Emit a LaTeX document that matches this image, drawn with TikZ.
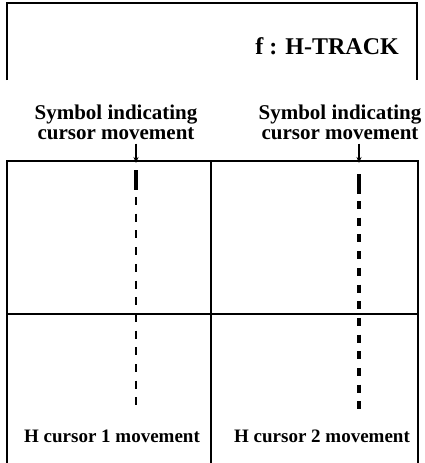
\documentclass[tikz,border=0pt]{standalone}
\usepackage{fontspec}
\setmainfont{Liberation Serif}
\usetikzlibrary{arrows.meta}
\begin{document}
\begin{tikzpicture}[x=1pt,y=-1pt,
  frame/.style={line width=1.4pt},
  symlbl/.style={font=\bfseries\fontsize{21}{20}\selectfont, inner sep=0pt, align=center},
  lbl/.style={font=\bfseries\fontsize{19}{20}\selectfont, inner sep=0pt, align=center},
  ptr/.style={line width=1.2pt,-{Stealth[length=6pt,width=5pt]}},
  thinmark/.style={line width=1.8pt, dash pattern=on 8pt off 8.7pt},
  thickmark/.style={line width=3.6pt, dash pattern=on 8pt off 8.7pt},
  headmark/.style={line width=3.8pt}]
\useasboundingbox (0,0) rectangle (425,463);
% title box
\draw[frame] (7,80) -- (7,3) -- (417,3) -- (417,80);
\node[font=\bfseries\fontsize{24}{26}\selectfont, anchor=east, inner sep=0pt] (title) at (399,46) {f : H-TRACK};
% grid
\coordinate (tl) at (7,161);
\coordinate (tr) at (418,161);
\coordinate (tm) at (211,161);
\draw[frame] (7,463) -- (tl) -- (tr) -- (418,463);
\draw[frame] (tm) -- (211,463);
\draw[frame] (7,314) -- (418,314);
% labels
\node[symlbl] (sym1) at (116,122) {Symbol indicating\\cursor movement};
\node[symlbl] (sym2) at (340,122) {Symbol indicating\\cursor movement};
\node[lbl] (hc1) at (112,436) {H cursor 1 movement};
\node[lbl] (hc2) at (322,436) {H cursor 2 movement};
% pointers
\coordinate (p1) at (136,163);
\coordinate (p2) at (359,163);
\draw[ptr] (sym1.south -| p1) ++(0,4) -- (p1);
\draw[ptr] (sym2.south -| p2) ++(0,4) -- (p2);
% cursor 1 trace
\draw[headmark] (136,170) -- (136,190);
\draw[thinmark] (136,197) -- (136,414);
% cursor 2 trace
\draw[headmark] (359,174) -- (359,194);
\draw[thickmark] (359,201) -- (359,414);
\end{tikzpicture}
\end{document}
